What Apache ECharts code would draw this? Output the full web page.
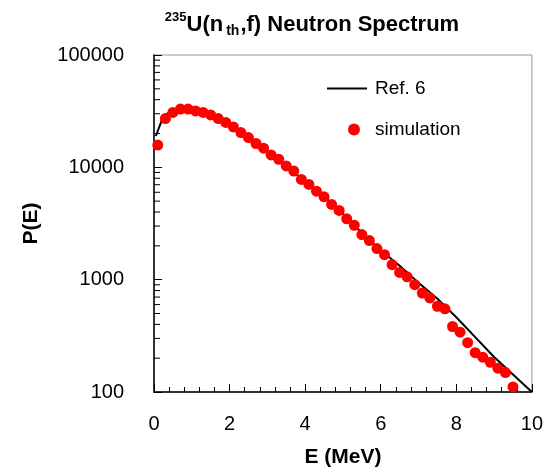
<!DOCTYPE html>
<html>
<head>
<meta charset="utf-8">
<script src="https://cdn.jsdelivr.net/npm/echarts@6/dist/echarts.min.js"></script>
<style>
  html, body { margin: 0; padding: 0; background: #fff; }
  #chart { width: 546px; height: 474px; }
</style>
</head>
<body>
<div id="chart"></div>
<script>
// simulation points (E in MeV, P(E))
const simE = [0.1, 0.3, 0.5, 0.7, 0.9, 1.1, 1.3, 1.5, 1.7, 1.9, 2.1, 2.3, 2.5, 2.7, 2.9, 3.1,
  3.3, 3.5, 3.7, 3.9, 4.1, 4.3, 4.5, 4.7, 4.9, 5.1, 5.3, 5.5, 5.7, 5.9, 6.1, 6.3,
  6.5, 6.7, 6.9, 7.1, 7.3, 7.5, 7.7, 7.9, 8.1, 8.3, 8.5, 8.7, 8.9, 9.1, 9.3, 9.5];
const simP = [15800, 27200, 30800, 33000, 33000, 31800, 30800, 29300, 27200, 25100, 22900, 20400, 18400, 16300, 14800, 12900,
  11800, 10300, 9270, 7810, 7050, 6140, 5470, 4670, 4130, 3480, 3050, 2520, 2230, 1890, 1670, 1360,
  1160, 1060, 902, 760, 687, 580, 550, 383, 341, 275, 224, 204, 184, 163, 149, 111];

// Ref. 6 curve
const refE = [0.05, 0.2, 0.35, 0.5, 0.75, 1.0, 1.5, 2.0, 2.5, 3.0, 3.5, 4.0, 4.5, 5.0, 5.5, 6.0, 6.5, 7.0, 7.5, 8.0, 8.5, 9.0, 9.5, 10.0];
const refP = [19000, 25900, 30100, 31800, 33000, 32500, 29500, 24300, 18600, 13900, 10400, 7450, 5500, 3850, 2600, 1830, 1330, 940, 675, 463, 308, 205, 143, 100];

// axis ticks
const xTicks = [0, 2, 4, 6, 8, 10];
const yTicks = [100, 1000, 10000, 100000];
const yMinorTicks = [200, 300, 400, 500, 600, 700, 800, 900,
  2000, 3000, 4000, 5000, 6000, 7000, 8000, 9000,
  20000, 30000, 40000, 50000, 60000, 70000, 80000, 90000];

const FONT = 'Liberation Sans, Arial, sans-serif';

const chart = echarts.init(document.getElementById('chart'));

chart.setOption({
  animation: false,
  backgroundColor: '#fff',
  title: {
    text: '{sup|235}{b|U(n}{sub|th}{b|,f) Neutron Spectrum}',
    left: 307,
    textAlign: 'center',
    top: 6,
    textStyle: {
      rich: {
        b: { fontFamily: FONT, fontWeight: 'bold', fontSize: 22, color: '#000', lineHeight: 27 },
        sup: { fontFamily: FONT, fontWeight: 'bold', fontSize: 13, color: '#000', lineHeight: 27, verticalAlign: 'top', padding: [0, 0, 10, 0] },
        sub: { fontFamily: FONT, fontWeight: 'bold', fontSize: 14, color: '#000', lineHeight: 27, verticalAlign: 'bottom', padding: [6, 1, 0, 3] }
      }
    }
  },
  legend: [{
    data: [{ name: 'Ref. 6', icon: 'rect' }],
    left: 322, top: 74,
    itemWidth: 40, itemHeight: 2,
    textStyle: { fontFamily: FONT, fontSize: 19, color: '#000', padding: [0, 0, 0, 3] }
  }, {
    data: ['simulation'],
    left: 343, top: 115,
    itemWidth: 12, itemHeight: 12,
    textStyle: { fontFamily: FONT, fontSize: 19, color: '#000', padding: [0, 0, 0, 10] }
  }],
  grid: {
    left: 154, right: 14, top: 55, bottom: 82,
    show: true, borderColor: '#999', borderWidth: 1
  },
  xAxis: {
    type: 'value',
    min: 0, max: 10, interval: 2,
    name: 'E (MeV)',
    nameLocation: 'middle',
    nameGap: 55,
    nameTextStyle: { fontFamily: FONT, fontWeight: 'bold', fontSize: 21, color: '#000' },
    axisLine: { lineStyle: { color: '#000', width: 1.5 } },
    axisTick: { inside: true, length: 8, lineStyle: { color: '#000' } },
    minorTick: { show: true, splitNumber: 5, length: 5, lineStyle: { color: '#000' } },
    splitLine: { show: false },
    axisLabel: {
      margin: 22, fontFamily: FONT, fontSize: 20, color: '#000',
      customValues: xTicks
    }
  },
  yAxis: {
    type: 'log',
    logBase: 10,
    min: 100, max: 100000,
    name: 'P(E)',
    nameLocation: 'middle',
    nameGap: 112,
    nameTextStyle: { fontFamily: FONT, fontWeight: 'bold', fontSize: 21, color: '#000' },
    axisLine: { lineStyle: { color: '#000', width: 1.5 } },
    axisTick: { inside: true, length: 8, lineStyle: { color: '#000' } },
    splitLine: { show: false },
    axisLabel: {
      margin: 30, fontFamily: FONT, fontSize: 20, color: '#000',
      formatter: v => String(Math.round(v))
    }
  },
  series: [{
    name: 'Ref. 6',
    type: 'line',
    data: refE.map((e, i) => [e, refP[i]]),
    showSymbol: false,
    symbol: 'none',
    lineStyle: { color: '#000', width: 2 },
    itemStyle: { color: '#000' },
    z: 3
  }, {
    name: 'simulation',
    type: 'scatter',
    data: simE.map((e, i) => [e, simP[i]]),
    symbol: 'circle',
    symbolSize: 11,
    itemStyle: { color: '#ff0000', opacity: 1 },
    z: 4
  }, {
    name: 'yMinor',
    type: 'custom',
    silent: true,
    data: yMinorTicks.map(v => [0, v]),
    renderItem: (params, api) => {
      const p = api.coord([0, api.value(1)]);
      return {
        type: 'line',
        shape: { x1: p[0], y1: p[1], x2: p[0] + 6, y2: p[1] },
        style: { stroke: '#000', lineWidth: 1 }
      };
    },
    z: 5
  }]
});
</script>
</body>
</html>
